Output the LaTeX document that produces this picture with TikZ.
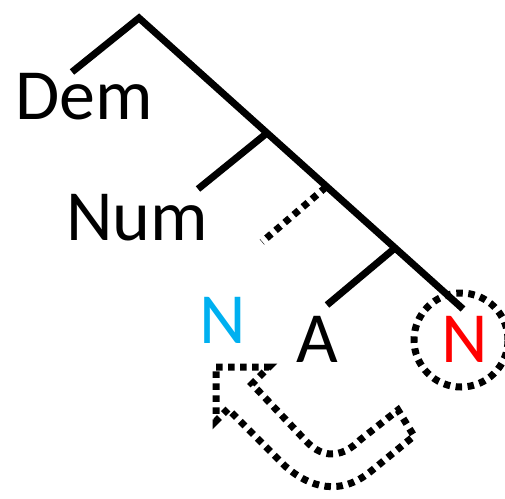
\documentclass[tikz,border=0pt]{standalone}
\usepackage{fontspec}
\setmainfont{Carlito}
\definecolor{nblue}{HTML}{00B0F0}
\definecolor{nred}{HTML}{FF0000}
\begin{document}
\begin{tikzpicture}[x=1pt,y=-1pt,
  lbl/.style={inner sep=0pt, anchor=base, font=\fontsize{72}{80}\selectfont},
  branch/.style={line width=7pt, line cap=butt, line join=miter},
  dots/.style={line width=7pt, dash pattern=on 6.5pt off 5.5pt, line join=miter, miter limit=10}]
\useasboundingbox (0,0) rectangle (505,498);
% tree
\coordinate (top) at (139,18);
\coordinate (jnum) at (267,133);
\coordinate (jdot) at (326,187);
\coordinate (ja) at (395,248);
\coordinate (bot) at (463,309);
\coordinate (edem) at (72,72);
\coordinate (enum) at (198,189);
\coordinate (edot) at (262,242);
\coordinate (ea) at (327,305);
\draw[branch] (edem) -- (top) -- (bot);
\draw[branch] (jnum) -- (enum);
\draw[branch] (ja) -- (ea);
\draw[dots] (jdot) -- (edot);
% labels
\node[lbl] (dem) at (84,119) {Dem};
\node[lbl] (num) at (137,240) {Num};
\node[lbl, text=nblue] (nb) at (223,343) {N};
\node[lbl] (a) at (317,362) {A};
\node[lbl, text=nred] (nr) at (465,362) {N};
% dotted circle
\draw[dots] (461,340) circle[radius=47pt];
% dotted U-turn arrow
\coordinate (T) at (216,367);
\coordinate (B1) at (269,367);
\coordinate (B2) at (216,421);
\coordinate (S1) at (252,384);
\coordinate (S2) at (228,409);
\draw[dots] (T) -- (B1) -- (S1) -- (305,440)
  .. controls (325,462) and (345,455) .. (360,440) -- (398,410) -- (414,436) -- (370,472)
  .. controls (340,496) and (310,488) .. (285,466) -- (S2) -- (B2) -- cycle;
\end{tikzpicture}
\end{document}
